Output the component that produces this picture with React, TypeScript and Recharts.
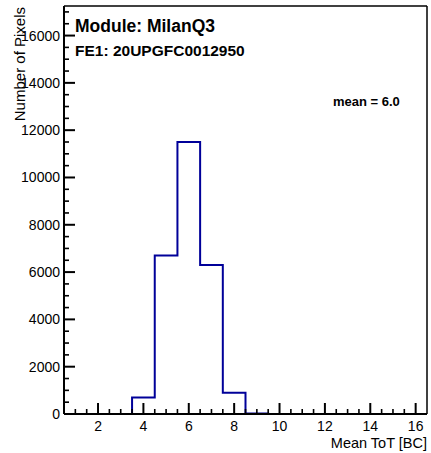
import React from "react";
import { ComposedChart, Line, XAxis, YAxis, ReferenceLine } from "recharts";

const binCenters = [1, 2, 3, 4, 5, 6, 7, 8, 9, 10, 11, 12, 13, 14, 15, 16];
const binCounts = [0, 0, 0, 700, 6700, 11500, 6300, 900, 20, 0, 0, 0, 0, 0, 0, 0];
const xTicks = [1, 1.5, 2, 2.5, 3, 3.5, 4, 4.5, 5, 5.5, 6, 6.5, 7, 7.5, 8, 8.5, 9, 9.5, 10, 10.5, 11, 11.5, 12, 12.5, 13, 13.5, 14, 14.5, 15, 15.5, 16];
const yTicks = Array.from({ length: 35 }, (_, i) => i * 500);
const yMax = 17250;
const title = "Module: MilanQ3";
const subtitle = "FE1: 20UPGFC0012950";
const meanText = "mean = 6.0";
const xTitle = "Mean ToT [BC]";
const yTitle = "Number of Pixels";

const FONT = "'Liberation Sans', Arial, Helvetica, sans-serif";

const stepData = [
  ...binCenters.map((c, i) => ({ x: c - 0.5, y: binCounts[i] })),
  { x: binCenters[binCenters.length - 1] + 0.5, y: binCounts[binCounts.length - 1] },
];

const YTick = (props: any) => {
  const { x, y, payload } = props;
  const v = payload.value;
  const major = v % 2000 === 0;
  return (
    <g>
      <line x1={x} x2={x + (major ? 11 : 5)} y1={y} y2={y} stroke="#000" strokeWidth={major ? 2 : 1.6} />
      {major && (
        <text x={x - 4} y={y + 5} textAnchor="end" fontSize={14} fontFamily={FONT} fill="#000">
          {v}
        </text>
      )}
    </g>
  );
};

const XTick = (props: any) => {
  const { x, y, payload } = props;
  const v = payload.value;
  const major = v % 2 === 0;
  return (
    <g>
      <line x1={x} x2={x} y1={y} y2={y - (major ? 11 : 5)} stroke="#000" strokeWidth={major ? 2 : 1.6} />
      {major && (
        <text x={x} y={y + 17} textAnchor="middle" fontSize={14} fontFamily={FONT} fill="#000">
          {v}
        </text>
      )}
    </g>
  );
};

export default function App() {
  return (
    <div style={{ position: "absolute", left: 0, top: 0, width: 431, height: 453, background: "#fff" }}>
      <ComposedChart
        width={431}
        height={453}
        data={stepData}
        margin={{ top: 6, right: 4, bottom: 38, left: 63 }}
      >
        <XAxis
          type="number"
          dataKey="x"
          domain={[0.5, 16.5]}
          ticks={xTicks}
          interval={0}
          height={1}
          tickSize={0}
          tickMargin={0}
          tickLine={false}
          axisLine={{ stroke: "#000", strokeWidth: 2 }}
          tick={<XTick />}
        />
        <YAxis
          type="number"
          domain={[0, yMax]}
          ticks={yTicks}
          interval={0}
          width={1}
          tickSize={0}
          tickMargin={0}
          tickLine={false}
          axisLine={{ stroke: "#000", strokeWidth: 2 }}
          tick={<YTick />}
        />
        <ReferenceLine y={yMax} stroke="#000" strokeWidth={1.5} ifOverflow="extendDomain" />
        <ReferenceLine x={16.5} stroke="#000" strokeWidth={1.5} ifOverflow="extendDomain" />
        <Line
          dataKey="y"
          type="stepAfter"
          stroke="#000099"
          strokeWidth={2}
          dot={false}
          isAnimationActive={false}
        />
      </ComposedChart>
      <svg width={431} height={453} style={{ position: "absolute", left: 0, top: 0, pointerEvents: "none" }}>
        <text x={75} y={32} fontSize={17.5} fontWeight="bold" fontFamily={FONT} fill="#000">{title}</text>
        <text x={75} y={56} fontSize={15.5} fontWeight="bold" fontFamily={FONT} fill="#000">{subtitle}</text>
        <text x={333} y={106} fontSize={13} fontWeight="bold" fontFamily={FONT} fill="#000">{meanText}</text>
        <text x={427} y={448} fontSize={14.5} textAnchor="end" fontFamily={FONT} fill="#000">{xTitle}</text>
        <text x={25} y={7} fontSize={15} textAnchor="end" fontFamily={FONT} fill="#000" transform="rotate(-90 25 7)">{yTitle}</text>
      </svg>
    </div>
  );
}
